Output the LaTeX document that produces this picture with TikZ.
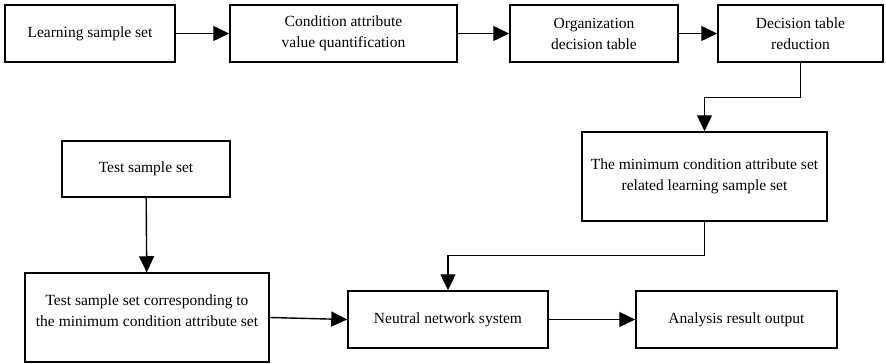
\documentclass[tikz,border=0pt]{standalone}
\usepackage{fontspec}
\setmainfont{Liberation Serif}
\usetikzlibrary{arrows.meta}
\tikzset{
  box/.style={draw, line width=1.5pt, align=center, inner sep=2pt,
              font=\fontsize{15.5}{21}\selectfont},
  arr/.style={line width=1.4pt, -{Triangle[length=16pt,width=15pt]}}
}
\begin{document}
\begin{tikzpicture}[x=1pt,y=-1pt]
\useasboundingbox (0,0) rectangle (886,364);
% top row
\node[box, minimum width=170pt, minimum height=57pt] (learn)  at (90,33.5)    {Learning sample set};
\node[box, minimum width=227pt, minimum height=57pt] (quant)  at (343.5,33.5) {Condition attribute\\value quantification};
\node[box, minimum width=168pt, minimum height=57pt] (organ)  at (594,33.5)   {Organization\\decision table};
\node[box, minimum width=165pt, minimum height=57pt] (reduce) at (800.5,33.5) {Decision table\\reduction};
% middle
\node[box, minimum width=245pt, minimum height=89pt] (minset) at (704.5,176.5) {The minimum condition attribute set\\related learning sample set};
\node[box, minimum width=168pt, minimum height=56pt] (test)   at (146,169)    {Test sample set};
% bottom row
\node[box, minimum width=244pt, minimum height=89pt, text depth=14pt] (testmin) at (147,317.5) {Test sample set corresponding to\\the minimum condition attribute set};
\node[box, minimum width=200pt, minimum height=57pt] (neural) at (448,319.5)  {Neutral network system};
\node[box, minimum width=201pt, minimum height=57pt] (output) at (736.5,319.5) {Analysis result output};

\draw[arr] (learn) -- (quant);
\draw[arr] (quant) -- (organ);
\draw[arr] (organ) -- (reduce);
\draw[arr] (reduce.south) -- ++(0,35) -| (minset.north);
\draw[arr] (minset.south) -- ++(0,34) -| (neural.north);
\draw[arr] (test) -- (testmin);
\draw[arr] (testmin.east) -- (neural.west);
\draw[arr] (neural) -- (output);
\end{tikzpicture}
\end{document}
